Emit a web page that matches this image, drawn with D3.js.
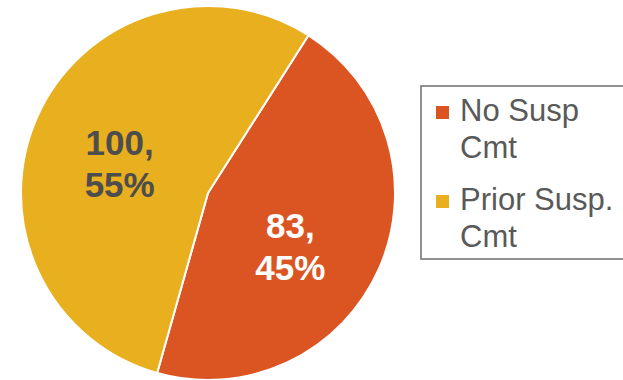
<!DOCTYPE html>
<html>
<head>
<meta charset="utf-8">
<script src="https://cdn.jsdelivr.net/npm/d3@7/dist/d3.min.js"></script>
<style>
  html, body { margin: 0; padding: 0; background: #ffffff; overflow: hidden; }
  svg { display: block; overflow: hidden; font-family: "Liberation Sans", Arial, sans-serif; }
</style>
</head>
<body>
<svg id="chart" width="623" height="380" viewBox="0 0 623 380"></svg>
<script>
// Suspension-comment breakdown
const categories = ["No Susp Cmt", "Prior Susp. Cmt"];
const legendLines = [["No Susp", "Cmt"], ["Prior Susp.", "Cmt"]];
const values = [83, 100];
const colors = ["#DB5522", "#E8AF1F"];
const labelColors = ["#ffffff", "#4D4D4D"];

const svg = d3.select("#chart");
const cx = 208, cy = 193, radius = 187;
const startDeg = 32.5;

const total = d3.sum(values);
const data = categories.map((c, i) => ({ name: c, value: values[i], color: colors[i], label: labelColors[i] }));

const pie = d3.pie()
  .value(d => d.value)
  .sort(null)
  .startAngle(startDeg * Math.PI / 180)
  .endAngle(startDeg * Math.PI / 180 + 2 * Math.PI);

const arc = d3.arc().innerRadius(0).outerRadius(radius);

const g = svg.append("g").attr("transform", `translate(${cx},${cy})`);
const arcs = pie(data);

g.selectAll("path.slice")
  .data(arcs)
  .join("path")
  .attr("class", "slice")
  .attr("d", arc)
  .attr("fill", d => d.data.color)
  .attr("stroke", "#ffffff")
  .attr("stroke-width", 2)
  .attr("stroke-linejoin", "round");

// data labels: value and percentage on two lines, around each slice's centroid
const nudge = [[-3, 15], [-3, 8]];
const fmtPct = d3.format(".0%");
const lbl = g.selectAll("g.lbl")
  .data(arcs)
  .join("g")
  .attr("class", "lbl")
  .attr("transform", (d, i) => {
    const [x, y] = arc.centroid(d);
    return `translate(${x + nudge[i][0]},${y + nudge[i][1]})`;
  });

lbl.append("text")
  .attr("text-anchor", "middle")
  .attr("font-size", 35)
  .attr("font-weight", "bold")
  .attr("fill", d => d.data.label)
  .selectAll("tspan")
  .data(d => [d.data.value + ",", fmtPct(d.data.value / total)])
  .join("tspan")
  .attr("x", 0)
  .attr("y", (t, j) => j === 0 ? -8 : 34)
  .text(t => t);

// legend frame: open on the right, where it runs off the canvas
const legend = svg.append("g").attr("transform", "translate(421,86)");
const boxW = 210, boxH = 173;
legend.append("path")
  .attr("d", `M${boxW},0 H0 V${boxH} H${boxW}`)
  .attr("fill", "none")
  .attr("stroke", "#6E6E6E")
  .attr("stroke-width", 1.5);

const items = legend.selectAll("g.item")
  .data(data)
  .join("g")
  .attr("class", "item")
  .attr("transform", (d, i) => `translate(0,${i * 89})`);

items.append("rect")
  .attr("x", 15).attr("y", 20)
  .attr("width", 13).attr("height", 13)
  .attr("fill", d => d.color);

items.append("text")
  .attr("font-size", 31)
  .attr("fill", "#595959")
  .selectAll("tspan")
  .data((d, i) => legendLines[i])
  .join("tspan")
  .attr("x", 39)
  .attr("y", (t, j) => 35 + j * 37)
  .text(t => t);
</script>
</body>
</html>
